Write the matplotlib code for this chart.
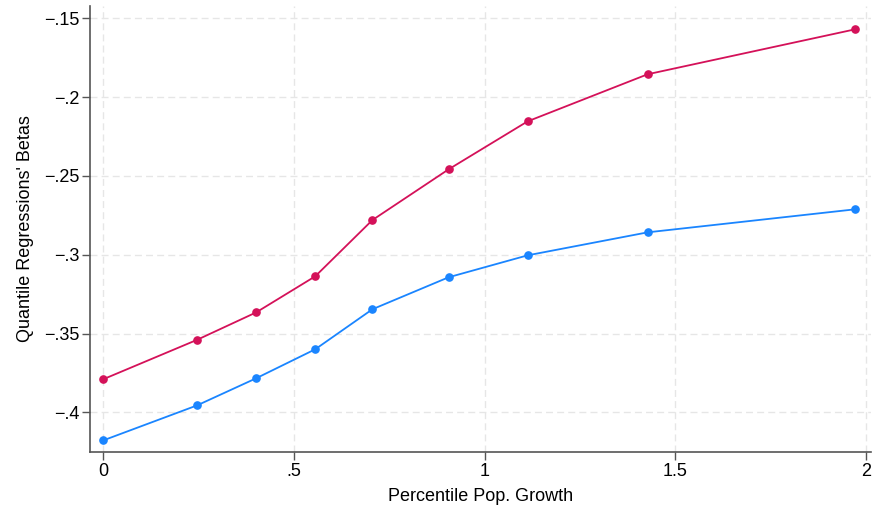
import matplotlib
matplotlib.use("Agg")
import matplotlib.pyplot as plt

plt.rcParams['font.family'] = ['Liberation Sans', 'DejaVu Sans']

# Data
pop_growth = [0.0, 0.246, 0.401, 0.556, 0.706, 0.906, 1.113, 1.428, 1.972]
betas_red = [-0.379, -0.354, -0.3366, -0.3137, -0.278, -0.2458, -0.2154, -0.1855, -0.157]
betas_blue = [-0.4178, -0.3956, -0.3784, -0.360, -0.3346, -0.3143, -0.3004, -0.2858, -0.2712]

xticks = [0, 0.5, 1, 1.5, 2]
xtick_labels = ['0', '.5', '1', '1.5', '2']
yticks = [-0.4, -0.35, -0.3, -0.25, -0.2, -0.15]
ytick_labels = ['\u2212.4', '\u2212.35', '\u2212.3', '\u2212.25', '\u2212.2', '\u2212.15']

blue = '#1a85ff'
red = '#d41159'

fig = plt.figure(figsize=(8.72, 5.05), dpi=100)
ax = fig.add_axes([0.1036, 0.1055, 0.8953, 0.8826])

ax.plot(pop_growth, betas_blue, color=blue, lw=1.3, marker='o', ms=5.2, zorder=3)
ax.plot(pop_growth, betas_red, color=red, lw=1.3, marker='o', ms=5.2, zorder=3)

ax.set_xlim(-0.034, 2.014)
ax.set_ylim(-0.425, -0.1422)

ax.set_xticks(xticks)
ax.set_xticklabels(xtick_labels)
ax.set_yticks(yticks)
ax.set_yticklabels(ytick_labels)

ax.grid(True, color='#e6e6e6', lw=1, ls=(0, (5, 3)))
ax.set_axisbelow(True)

for s in ['top', 'right']:
    ax.spines[s].set_visible(False)
for s in ['left', 'bottom']:
    ax.spines[s].set_color('#555555')
    ax.spines[s].set_linewidth(1.2)

ax.tick_params(axis='both', direction='out', length=6, width=1, color='#555555',
               labelsize=13, pad=2)

ax.set_xlabel('Percentile Pop. Growth', fontsize=13, labelpad=6)
ax.set_ylabel("Quantile Regressions' Betas", fontsize=13, labelpad=7)

fig.savefig('out.png', dpi=100)
